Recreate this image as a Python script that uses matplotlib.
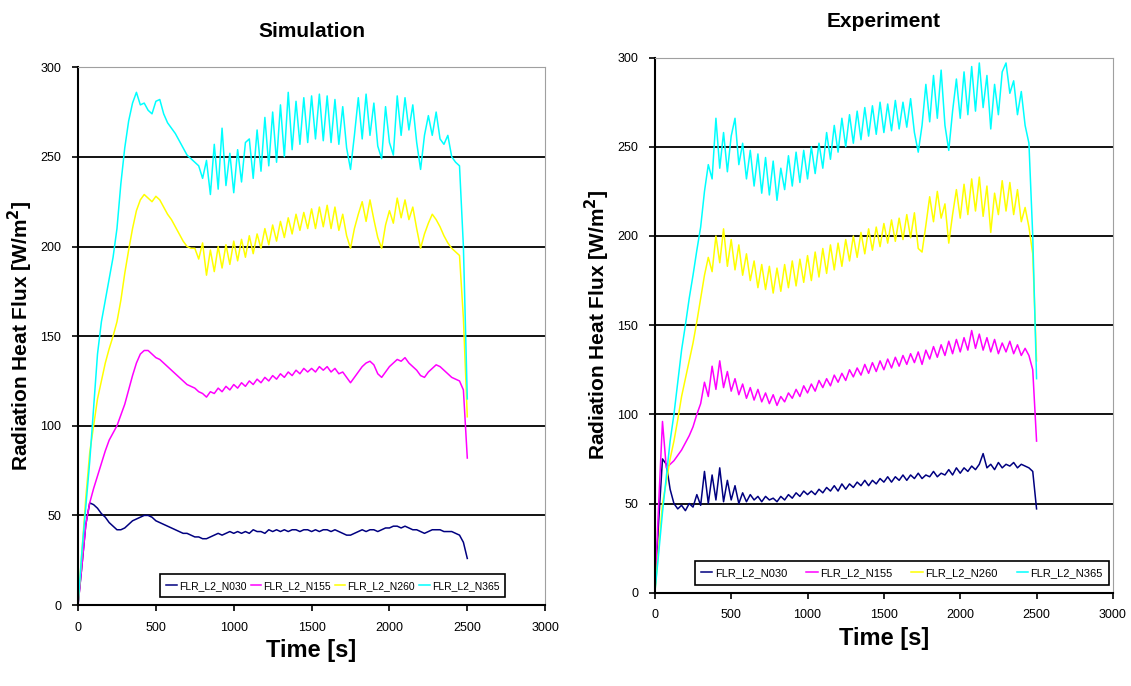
import numpy as np
import matplotlib
matplotlib.use('Agg')
import matplotlib.pyplot as plt

plt.rcParams['font.family'] = ['Liberation Sans', 'DejaVu Sans']

#%% data (25 s sampling)

time_s = np.arange(0, 2525, 25)
labels = ['FLR_L2_N030', 'FLR_L2_N155', 'FLR_L2_N260', 'FLR_L2_N365']
colors = ['#000080', '#ff00ff', '#ffff00', '#00ffff']

sim_n030 = [0, 22, 45, 57, 56, 54, 51, 49, 46, 44,
            42, 42, 43, 45, 47, 48, 49, 50, 50, 49,
            47, 46, 45, 44, 43, 42, 41, 40, 40, 39,
            38, 38, 37, 37, 38, 39, 40, 39, 40, 41,
            40, 41, 40, 41, 40, 42, 41, 41, 40, 42,
            41, 42, 41, 42, 41, 42, 42, 41, 42, 42,
            41, 42, 41, 42, 42, 41, 42, 41, 40, 39,
            39, 40, 41, 42, 41, 42, 42, 41, 42, 43,
            43, 44, 44, 43, 44, 43, 42, 42, 41, 40,
            41, 42, 42, 42, 41, 41, 41, 40, 39, 35,
            26]
sim_n155 = [0, 22, 45, 57, 65, 72, 79, 86, 92, 96,
            100, 106, 112, 120, 128, 135, 140, 142, 142, 140,
            138, 137, 135, 133, 131, 129, 127, 125, 123, 122,
            121, 119, 118, 116, 119, 118, 121, 119, 122, 120,
            123, 121, 124, 122, 125, 123, 126, 124, 127, 125,
            128, 126, 129, 127, 130, 128, 131, 129, 132, 130,
            132, 130, 133, 131, 133, 130, 132, 129, 130, 127,
            124, 127, 130, 133, 135, 136, 134, 129, 127, 130,
            133, 135, 137, 136, 138, 135, 133, 131, 128, 127,
            130, 132, 134, 133, 131, 129, 127, 126, 125, 120,
            82]
sim_n260 = [0, 30, 60, 85, 100, 115, 125, 135, 143, 150,
            158, 170, 185, 198, 210, 220, 226, 229, 227, 225,
            228, 226, 222, 218, 215, 211, 207, 203, 200, 199,
            199, 193, 202, 184, 198, 186, 200, 188, 201, 190,
            203, 192, 204, 194, 206, 196, 207, 199, 210, 201,
            212, 203, 214, 205, 216, 207, 218, 209, 219, 210,
            221, 210, 222, 211, 223, 210, 222, 209, 218, 206,
            199, 210, 218, 225, 214, 226, 215, 205, 199, 212,
            220, 213, 227, 216, 226, 215, 222, 210, 199, 207,
            213, 218, 215, 211, 206, 202, 199, 197, 195, 160,
            105]
sim_n365 = [0, 30, 55, 80, 110, 140, 158, 170, 182, 194,
            210, 235, 255, 270, 280, 286, 279, 280, 276, 274,
            281, 282, 274, 269, 266, 263, 259, 255, 251, 249,
            247, 245, 238, 248, 229, 257, 232, 266, 234, 252,
            230, 254, 236, 258, 260, 238, 265, 242, 272, 245,
            275, 247, 279, 250, 286, 254, 281, 257, 283, 258,
            284, 260, 285, 259, 284, 258, 282, 257, 278, 255,
            243, 262, 283, 260, 285, 262, 280, 256, 249, 278,
            258, 251, 284, 262, 283, 265, 279, 258, 243, 262,
            273, 262, 275, 260, 257, 262, 250, 247, 245, 200,
            115]

exp_n030 = [0, 40, 75, 72, 58, 50, 47, 49, 46, 50,
            48, 55, 49, 68, 50, 66, 52, 70, 51, 63,
            52, 60, 50, 56, 51, 55, 52, 54, 51, 54,
            52, 53, 51, 54, 52, 55, 53, 56, 54, 57,
            55, 57, 55, 58, 56, 59, 57, 60, 57, 61,
            58, 61, 59, 62, 60, 63, 60, 63, 61, 64,
            62, 65, 62, 65, 63, 66, 63, 66, 64, 67,
            64, 66, 65, 68, 65, 67, 66, 69, 66, 70,
            67, 70, 68, 71, 69, 72, 78, 70, 72, 69,
            73, 70, 72, 71, 73, 70, 72, 71, 70, 68,
            47]
exp_n155 = [0, 50, 96, 70, 72, 74, 77, 80, 84, 88,
            93, 100, 106, 118, 110, 127, 114, 130, 115, 124,
            113, 120, 111, 117, 109, 115, 108, 114, 107, 112,
            106, 111, 105, 110, 107, 112, 109, 114, 110, 116,
            112, 117, 113, 119, 115, 120, 116, 122, 118, 123,
            119, 125, 121, 126, 122, 128, 123, 129, 124, 130,
            125, 131, 126, 132, 127, 133, 128, 134, 129, 135,
            128, 136, 131, 138, 132, 139, 133, 141, 134, 142,
            135, 143, 136, 147, 137, 145, 136, 143, 135, 142,
            134, 140, 135, 141, 134, 139, 133, 137, 133, 125,
            85]
exp_n260 = [0, 25, 50, 62, 75, 85, 97, 110, 120, 130,
            140, 152, 165, 178, 188, 180, 200, 185, 204, 183,
            198, 181, 195, 178, 190, 175, 186, 171, 184, 170,
            183, 168, 182, 169, 184, 171, 186, 172, 187, 174,
            189, 175, 191, 177, 193, 179, 195, 181, 196, 183,
            198, 186, 200, 188, 202, 190, 204, 192, 205, 194,
            207, 196, 209, 197, 210, 198, 212, 199, 213, 193,
            191, 206, 222, 208, 225, 210, 218, 196, 212, 226,
            210, 229, 212, 232, 214, 233, 211, 228, 202, 224,
            212, 231, 214, 230, 212, 226, 208, 216, 205, 190,
            130]
exp_n365 = [0, 22, 45, 65, 85, 100, 118, 136, 150, 165,
            178, 192, 205, 225, 240, 232, 266, 238, 258, 236,
            256, 266, 240, 252, 232, 248, 228, 246, 224, 244,
            223, 242, 220, 238, 226, 245, 228, 247, 230, 248,
            232, 250, 235, 252, 238, 258, 243, 262, 247, 266,
            250, 268, 252, 270, 254, 272, 256, 273, 257, 275,
            258, 274, 259, 276, 260, 275, 261, 277, 258, 247,
            262, 285, 264, 290, 266, 293, 262, 248, 270, 288,
            266, 292, 268, 295, 270, 297, 272, 290, 260, 285,
            268, 292, 297, 280, 287, 268, 281, 262, 252, 200,
            120]

sim_series = [sim_n030, sim_n155, sim_n260, sim_n365]
exp_series = [exp_n030, exp_n155, exp_n260, exp_n365]

xticks = [0, 500, 1000, 1500, 2000, 2500, 3000]
yticks = [0, 50, 100, 150, 200, 250, 300]

#%% plotting

fig = plt.figure(figsize=(11.31, 6.86), dpi=100)
ax1 = fig.add_axes([0.069, 0.118, 0.413, 0.784])
ax2 = fig.add_axes([0.579, 0.136, 0.405, 0.780])


def setup(ax, title, series, leg_anchor, leg_size, leg_space):
    for y, c, lab in zip(series, colors, labels):
        ax.plot(time_s, y, color=c, lw=1.1, label=lab)
    ax.set_xlim(0, 3000)
    ax.set_ylim(0, 300)
    ax.set_xticks(xticks)
    ax.set_yticks(yticks)
    ax.tick_params(direction='out', length=4, width=1.2, pad=8, labelsize=9)
    for v in yticks[1:-1]:
        ax.axhline(v, color='black', lw=1.3, zorder=0)
    for s in ['top', 'right']:
        ax.spines[s].set_color('#a0a0a0')
    for s in ['left', 'bottom']:
        ax.spines[s].set_linewidth(1.5)
    ax.set_title(title, fontsize=15, fontweight='bold', pad=22)
    ax.set_xlabel('Time [s]', fontsize=17, fontweight='bold')
    ax.set_ylabel('Radiation Heat Flux [W/m$^\\mathbf{2}$]', fontsize=15, fontweight='bold')
    leg = ax.legend(loc='lower left', bbox_to_anchor=leg_anchor, ncol=4,
                    fontsize=leg_size, fancybox=False,
                    edgecolor='black', framealpha=1, handlelength=1.0,
                    handletextpad=0.2, columnspacing=leg_space, borderpad=0.6,
                    borderaxespad=0)
    leg.get_frame().set_linewidth(1.2)


setup(ax1, 'Simulation', sim_series, (0.176, 0.015), 7.5, 0.4)
setup(ax2, 'Experiment', exp_series, (0.087, 0.015), 8, 1.75)

fig.savefig('out.png', dpi=100)
